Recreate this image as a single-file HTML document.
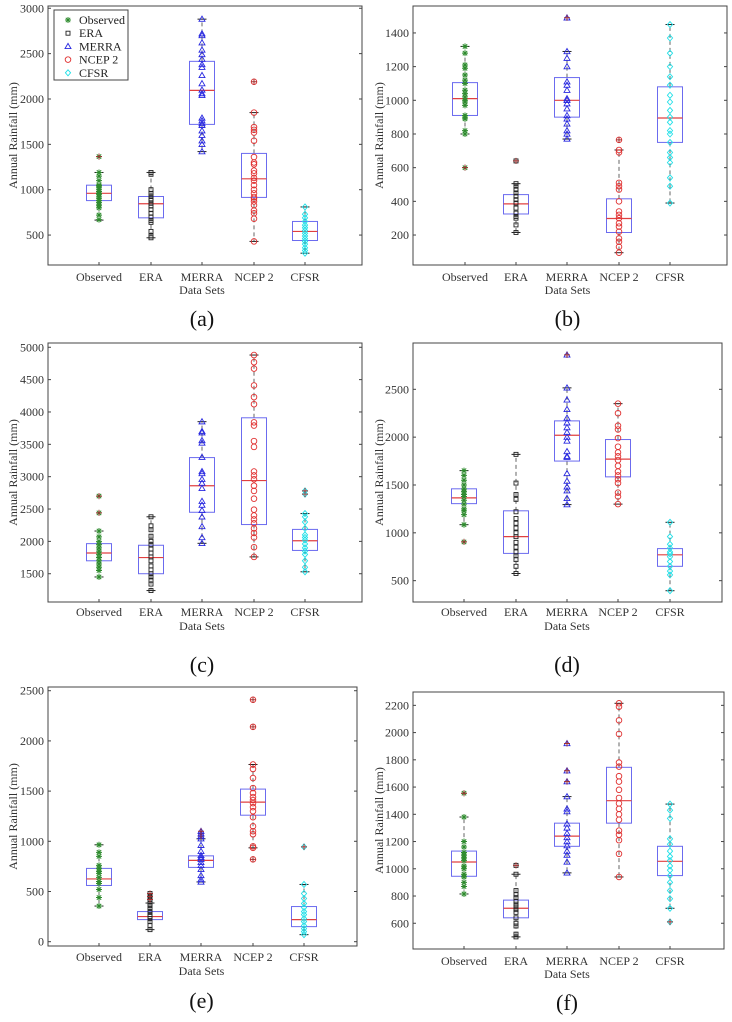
<!DOCTYPE html>
<html><head><meta charset="utf-8">
<style>
html,body{margin:0;padding:0;background:#fff;}
svg, svg text{font-family:"Liberation Serif","DejaVu Serif",serif;}
svg{display:block;}
</style></head>
<body>
<svg id="fig" width="732" height="1022" viewBox="0 0 732 1022" xmlns="http://www.w3.org/2000/svg" font-family="Liberation Serif, DejaVu Serif, serif"></svg>
<script>
const categories = ["Observed","ERA","MERRA","NCEP 2","CFSR"];
// ---- Panel (a)
const aTicks=[500,1000,1500,2000,2500,3000];
const aLow=[665,470,1420,430,300];
const aQ1=[880,690,1720,915,440];
const aMed=[960,845,2095,1120,540];
const aQ3=[1050,925,2415,1400,650];
const aHigh=[1190,1190,2880,1850,810];
const aOut=[[1365],[],[],[2190],[]];
const aPts=[[670,720,800,830,860,880,900,920,950,960,980,1000,1020,1040,1050,1100,1150,1190],
[470,490,540,640,660,700,740,780,820,850,880,900,930,960,1000,1170,1190],
[1420,1500,1540,1600,1650,1710,1730,1760,1790,2040,2060,2100,2170,2260,2350,2380,2440,2490,2540,2620,2700,2720,2880],
[430,680,740,770,830,870,900,920,960,1000,1050,1100,1130,1180,1210,1280,1300,1360,1540,1630,1660,1690,1850],
[300,330,360,400,430,460,490,520,550,580,610,650,690,730,810]];
// ---- Panel (b)
const bTicks=[200,400,600,800,1000,1200,1400];
const bLow=[800,215,770,95,390];
const bQ1=[910,325,900,215,750];
const bMed=[1010,385,1000,298,895];
const bQ3=[1105,440,1135,415,1080];
const bHigh=[1320,505,1290,705,1450];
const bOut=[[600],[640],[1490],[765],[]];
const bPts=[[800,820,890,900,910,970,990,1000,1020,1040,1060,1100,1120,1150,1190,1210,1280,1320],
[215,260,300,310,330,360,390,410,430,450,470,490,505],
[770,800,820,860,890,910,950,980,1000,1010,1060,1090,1110,1200,1250,1290],
[95,130,160,180,220,250,270,300,320,340,400,470,490,510,690,705],
[390,490,540,630,660,690,750,800,820,870,900,940,990,1030,1090,1140,1200,1280,1370,1450]];
// ---- Panel (c)
const cTicks=[1500,2000,2500,3000,3500,4000,4500,5000];
const cLow=[1450,1240,1970,1760,1530];
const cQ1=[1700,1500,2450,2260,1860];
const cMed=[1820,1750,2860,2940,2010];
const cQ3=[1965,1940,3295,3910,2185];
const cHigh=[2160,2380,3850,4880,2430];
const cOut=[[2440,2700],[],[],[],[2730,2780]];
const cPts=[[1450,1550,1600,1650,1700,1750,1800,1850,1900,1950,2000,2070,2160],
[1240,1340,1400,1450,1500,1560,1620,1700,1760,1820,1880,1950,2000,2080,2180,2240,2380],
[1970,2060,2230,2380,2480,2560,2620,2820,2900,2960,3050,3080,3300,3520,3560,3680,3700,3850],
[1760,1910,2060,2130,2200,2280,2340,2400,2490,2660,2780,2860,2960,3020,3080,3460,3550,3790,3840,4120,4230,4410,4670,4770,4880],
[1530,1600,1700,1800,1850,1900,1960,2020,2060,2100,2200,2300,2380,2430]];
// ---- Panel (d)
const dTicks=[500,1000,1500,2000,2500];
const dLow=[1085,575,1295,1300,395];
const dQ1=[1305,785,1750,1585,650];
const dMed=[1365,960,2020,1770,770];
const dQ3=[1460,1230,2170,1975,835];
const dHigh=[1650,1820,2515,2350,1110];
const dOut=[[905],[],[2860],[],[]];
const dPts=[[1085,1190,1230,1250,1300,1340,1380,1400,1430,1460,1500,1550,1600,1650],
[575,650,720,760,800,850,900,960,1000,1050,1100,1150,1220,1350,1400,1520,1820],
[1295,1360,1440,1480,1540,1620,1790,1800,1850,1960,2000,2050,2100,2150,2200,2290,2390,2515],
[1300,1380,1420,1520,1560,1600,1640,1700,1760,1800,1840,1900,1990,2080,2120,2250,2350],
[395,560,600,650,700,750,780,800,840,880,960,1110]];
// ---- Panel (e)
const eTicks=[0,500,1000,1500,2000,2500];
const eLow=[355,120,595,935,70];
const eQ1=[560,220,740,1260,150];
const eMed=[625,250,810,1390,220];
const eQ3=[730,300,855,1520,350];
const eHigh=[965,385,1025,1765,570];
const eOut=[[],[420,450,480],[1050,1075,1100],[820,2140,2410],[945]];
const ePts=[[355,440,520,580,600,640,680,700,730,760,850,890,965],
[120,160,200,230,250,270,300,330,360,385],
[595,620,660,720,760,790,820,840,860,900,960,1025],
[935,950,1070,1100,1150,1240,1300,1340,1380,1410,1440,1480,1530,1630,1720,1765],
[70,100,130,160,200,230,270,300,340,380,430,480,570]];
// ---- Panel (f)
const fTicks=[600,800,1000,1200,1400,1600,1800,2000,2200];
const fLow=[815,500,970,940,710];
const fQ1=[945,640,1165,1335,950];
const fMed=[1050,710,1240,1500,1055];
const fQ3=[1130,770,1335,1745,1165];
const fHigh=[1380,960,1530,2215,1475];
const fOut=[[1555],[1025],[1640,1720,1920],[],[610]];
const fPts=[[815,870,900,940,960,1000,1020,1060,1080,1100,1120,1160,1200,1380],
[500,520,580,600,640,680,700,720,740,760,790,810,840,960],
[970,1050,1100,1130,1170,1200,1230,1260,1300,1330,1420,1440,1530],
[940,1110,1210,1250,1280,1360,1400,1440,1480,1520,1580,1640,1680,1750,1780,1990,2090,2190,2215],
[710,780,840,900,950,990,1020,1060,1090,1130,1180,1220,1370,1430,1475]];

const NS="http://www.w3.org/2000/svg";
const svg=document.getElementById('fig');
const FONT='Liberation Serif, DejaVu Serif, serif';
function mk(tag,attrs,parent){const e=document.createElementNS(NS,tag);for(const k in attrs)e.setAttribute(k,attrs[k]);if(tag==='text')e.setAttribute('font-family',FONT);(parent||svg).appendChild(e);return e;}

const colors=["#2e8b2e","#222222","#2a2ae0","#e03030","#20e0e8"];
function marker(g,type,x,y,col){
  let e;
  if(type===0){e=mk('path',{d:`M${x} ${y-3}L${x} ${y+3}M${x-3} ${y}L${x+3} ${y}M${x-2.2} ${y-2.2}L${x+2.2} ${y+2.2}M${x-2.2} ${y+2.2}L${x+2.2} ${y-2.2}`,stroke:col,'stroke-width':1,fill:'none'},g);}
  else if(type===1){e=mk('rect',{x:x-2,y:y-2,width:4,height:4,stroke:col,'stroke-width':0.9,fill:'none'},g);}
  else if(type===2){e=mk('path',{d:`M${x} ${y-3}L${x+3} ${y+2.2}L${x-3} ${y+2.2}Z`,stroke:col,'stroke-width':0.9,fill:'none'},g);}
  else if(type===3){e=mk('circle',{cx:x,cy:y,r:2.8,stroke:col,'stroke-width':0.9,fill:'none'},g);}
  else {e=mk('path',{d:`M${x} ${y-3}L${x+2.6} ${y}L${x} ${y+3}L${x-2.6} ${y}Z`,stroke:col,'stroke-width':0.9,fill:'none'},g);}
  return e;
}

const panels=[
 {id:'a',L:48,R:362,T:6,B:265,vmin:170,vmax:3025,cx:[99,151,202,254,305],ticks:aTicks,low:aLow,q1:aQ1,med:aMed,q3:aQ3,high:aHigh,out:aOut,pts:aPts,ylx:13,catY:281,dsY:294,lblY:326,legend:true},
 {id:'b',L:413,R:727,T:6,B:265,vmin:22,vmax:1560,cx:[465,516,567,619,670],ticks:bTicks,low:bLow,q1:bQ1,med:bMed,q3:bQ3,high:bHigh,out:bOut,pts:bPts,ylx:379,catY:281,dsY:294,lblY:326},
 {id:'c',L:48,R:362,T:343,B:602,vmin:1063,vmax:5066,cx:[99,151,202,254,305],ticks:cTicks,low:cLow,q1:cQ1,med:cMed,q3:cQ3,high:cHigh,out:cOut,pts:cPts,ylx:13,catY:616,dsY:630,lblY:672},
 {id:'d',L:413,R:722,T:343,B:602,vmin:277,vmax:2984,cx:[464,516,567,618,670],ticks:dTicks,low:dLow,q1:dQ1,med:dMed,q3:dQ3,high:dHigh,out:dOut,pts:dPts,ylx:379,catY:616,dsY:630,lblY:672},
 {id:'e',L:48,R:357,T:687,B:946,vmin:-43,vmax:2537,cx:[99,150,201,253,304],ticks:eTicks,low:eLow,q1:eQ1,med:eMed,q3:eQ3,high:eHigh,out:eOut,pts:ePts,ylx:13,catY:961,dsY:975,lblY:1008},
 {id:'f',L:413,R:724,T:692,B:949,vmin:411,vmax:2298,cx:[464,516,567,619,670],ticks:fTicks,low:fLow,q1:fQ1,med:fMed,q3:fQ3,high:fHigh,out:fOut,pts:fPts,ylx:379,catY:965,dsY:978,lblY:1010}
];

panels.forEach(p=>{
  const g=mk('g',{});
  
  
  const y=v=>p.B-(v-p.vmin)/(p.vmax-p.vmin)*(p.B-p.T);
  const ax=mk('rect',{x:p.L,y:p.T,width:p.R-p.L,height:p.B-p.T,fill:'none',stroke:'#444','stroke-width':1},g);
  
  
  p.ticks.forEach(t=>{
    const yy=y(t);
    mk('line',{x1:p.L,x2:p.L+3,y1:yy,y2:yy,stroke:'#444','stroke-width':1},g);
    mk('line',{x1:p.R,x2:p.R-3,y1:yy,y2:yy,stroke:'#444','stroke-width':1},g);
    const tx=mk('text',{x:p.L-4,y:yy+4,'text-anchor':'end','font-size':12,fill:'#333'},g);
    tx.textContent=t;
    
    
  });
  const yl=mk('text',{x:0,y:0,transform:`translate(${p.ylx+4},${(p.T+p.B)/2}) rotate(-90)`,'text-anchor':'middle','font-size':12,fill:'#333'},g);
  yl.textContent='Annual Rainfall (mm)';
  
  
  categories.forEach((c,i)=>{
    const x=p.cx[i];
    mk('line',{x1:x,x2:x,y1:p.B,y2:p.B-3,stroke:'#444','stroke-width':1},g);
    const ct=mk('text',{x:x,y:p.catY,'text-anchor':'middle','font-size':12,fill:'#333'},g);
    ct.textContent=c;
    
    
    mk('line',{x1:x,x2:x,y1:y(p.q3[i]),y2:y(p.high[i]),stroke:'#666','stroke-width':1,'stroke-dasharray':'4,3'},g);
    mk('line',{x1:x,x2:x,y1:y(p.q1[i]),y2:y(p.low[i]),stroke:'#666','stroke-width':1,'stroke-dasharray':'4,3'},g);
    mk('line',{x1:x-4.5,x2:x+4.5,y1:y(p.high[i]),y2:y(p.high[i]),stroke:'#222','stroke-width':1},g);
    mk('line',{x1:x-4.5,x2:x+4.5,y1:y(p.low[i]),y2:y(p.low[i]),stroke:'#222','stroke-width':1},g);
    const bx=mk('rect',{x:x-12.5,y:y(p.q3[i]),width:25,height:y(p.q1[i])-y(p.q3[i]),fill:'none',stroke:'#6b6bef','stroke-width':1},g);
    
    
    mk('line',{x1:x-12.5,x2:x+12.5,y1:y(p.med[i]),y2:y(p.med[i]),stroke:'#e04040','stroke-width':1.2},g);
    p.pts[i].forEach(v=>{
      const m=marker(g,i,x,y(v),colors[i]);
      
      
    });
    p.out[i].forEach(v=>{
      marker(g,i,x,y(v),colors[i]);
      const o=mk('path',{d:`M${x-3} ${y(v)}L${x+3} ${y(v)}M${x} ${y(v)-3}L${x} ${y(v)+3}`,stroke:'#a03030','stroke-width':1},g);
      
      
    });
  });
  const ds=mk('text',{x:(p.cx[0]+p.cx[4])/2,y:p.dsY,'text-anchor':'middle','font-size':12,fill:'#333'},g);
  ds.textContent='Data Sets';
  
  
  const pl=mk('text',{x:(p.cx[0]+p.cx[4])/2,y:p.lblY,'text-anchor':'middle','font-size':22,fill:'#111'},g);
  pl.textContent='('+p.id+')';
  
  
  if(p.legend){
    const lg=mk('g',{},g);
    
    
    mk('rect',{x:54,y:10,width:74,height:70,fill:'#fff',stroke:'#444','stroke-width':1},lg);
    categories.forEach((c,i)=>{
      const yy=20+i*13.2;
      marker(lg,i,68,yy,colors[i]);
      const t=mk('text',{x:79,y:yy+4,'font-size':12,fill:'#222'},lg);
      t.textContent=c;
      
      
    });
  }
});
</script>
</body></html>
